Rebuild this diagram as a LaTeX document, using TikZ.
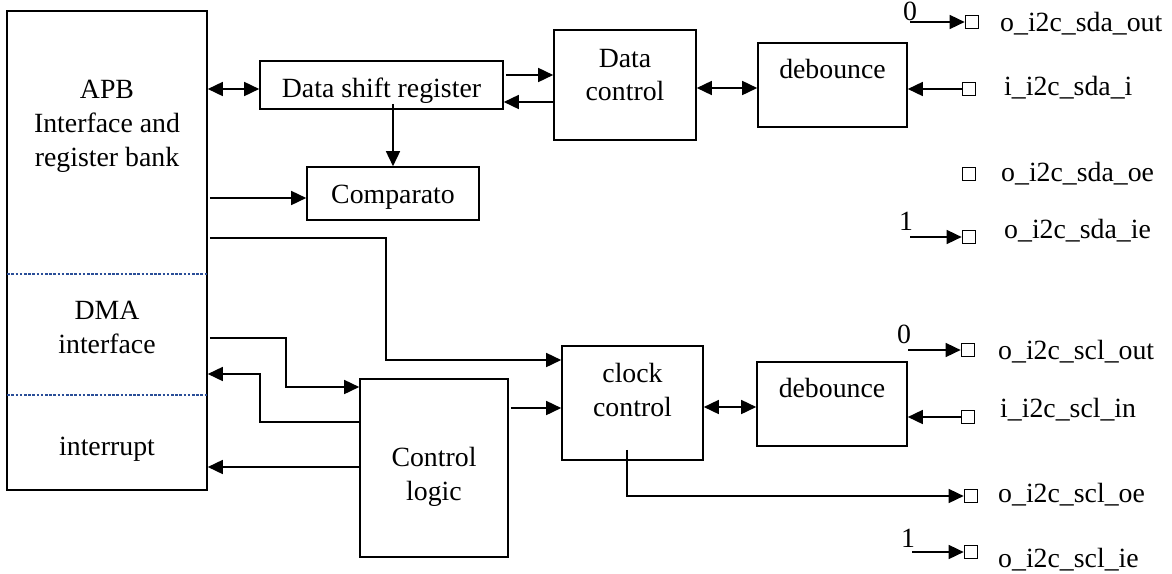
\documentclass[tikz,border=0pt]{standalone}
\usepackage{fontspec}
\setmainfont{Liberation Serif}
\usetikzlibrary{arrows.meta,calc}
\definecolor{sepblue}{HTML}{2A4E98}
\tikzset{
  box/.style={draw, line width=1.6pt, rectangle, inner sep=0pt},
  pin/.style={draw, line width=1.2pt, rectangle, inner sep=0pt, minimum size=13.5pt},
  lbl/.style={anchor=base, inner sep=0pt, font=\fontsize{27.8}{33}\selectfont},
  pinlbl/.style={anchor=base west, inner sep=0pt, font=\fontsize{27.8}{33}\selectfont},
  wire/.style={line width=1.6pt},
  ar/.style={wire, -{Triangle[length=15pt,width=14pt]}},
  dar/.style={wire, {Triangle[length=15pt,width=14pt]}-{Triangle[length=15pt,width=14pt]}},
  sep/.style={sepblue, line width=2.8pt, dash pattern=on 2.6pt off 1.6pt}
}
\begin{document}
\begin{tikzpicture}[x=1pt,y=-1pt]
\useasboundingbox (0,0) rectangle (1172,573);

% blocks
\node[box, minimum width=200pt, minimum height=479pt] (apb) at (107,250.5) {};
\node[box, minimum width=243pt, minimum height=48pt] (dsr) at (381.5,85) {};
\node[box, minimum width=172pt, minimum height=53pt] (cmp) at (393,193.5) {};
\node[box, minimum width=142pt, minimum height=110pt] (dctl) at (625,85) {};
\node[box, minimum width=149pt, minimum height=84pt] (deba) at (832.5,85) {};
\node[box, minimum width=141pt, minimum height=114pt] (cctl) at (632.5,403) {};
\node[box, minimum width=150pt, minimum height=84pt] (debb) at (832,404) {};
\node[box, minimum width=148pt, minimum height=178pt] (clog) at (434,468) {};

% register bank partitions
\draw[sep] ([xshift=1pt]apb.west |- 0,274) -- ([xshift=-1pt]apb.east |- 0,274);
\draw[sep] ([xshift=1pt]apb.west |- 0,395) -- ([xshift=-1pt]apb.east |- 0,395);

% block texts
\node[lbl] (t1) at (107,98) {APB};
\node[lbl] (t2) at (107,132) {Interface and};
\node[lbl] (t3) at (107,166) {register bank};
\node[lbl] (t4) at (107,319) {DMA};
\node[lbl] (t5) at (107,353) {interface};
\node[lbl] (t6) at (107,455) {interrupt};
\node[lbl] (t7) at (381.5,97) {Data shift register};
\node[lbl] (t8) at (393,203) {Comparato};
\node[lbl] (t9) at (625,67) {Data};
\node[lbl] (t10) at (625,100) {control};
\node[lbl] (t11) at (832.5,78) {debounce};
\node[lbl] (t12) at (632.5,382) {clock};
\node[lbl] (t13) at (632.5,416) {control};
\node[lbl] (t14) at (832,397) {debounce};
\node[lbl] (t15) at (434,466) {Control};
\node[lbl] (t16) at (434,500) {logic};

% I/O pads
\node[pin] (sdaout) at (972,22) {};
\node[pin] (sdai)   at (969,89) {};
\node[pin] (sdaoe)  at (969,174) {};
\node[pin] (sdaie)  at (969,237) {};
\node[pin] (sclout) at (968,350) {};
\node[pin] (sclin)  at (968,417) {};
\node[pin] (scloe)  at (971,496) {};
\node[pin] (sclie)  at (971,552) {};

\node[pinlbl] (l1) at (1000,31) {o\_i2c\_sda\_out};
\node[pinlbl] (l2) at (1004,95) {i\_i2c\_sda\_i};
\node[pinlbl] (l3) at (1001,181) {o\_i2c\_sda\_oe};
\node[pinlbl] (l4) at (1004,238) {o\_i2c\_sda\_ie};
\node[pinlbl] (l5) at (998,359) {o\_i2c\_scl\_out};
\node[pinlbl] (l6) at (1000,417) {i\_i2c\_scl\_in};
\node[pinlbl] (l7) at (998,502) {o\_i2c\_scl\_oe};
\node[pinlbl] (l8) at (998,567) {o\_i2c\_scl\_ie};

% constant drivers
\node[lbl] (c0a) at (910,20) {0};
\node[lbl] (c1a) at (906,230) {1};
\node[lbl] (c0b) at (904,343) {0};
\node[lbl] (c1b) at (908,547) {1};
\coordinate (s0a) at (910,22);
\coordinate (s1a) at (910,237);
\coordinate (s0b) at (908,350);
\coordinate (s1b) at (912,552);

% data path
\draw[dar] (apb.east |- 0,89) -- (dsr.west |- 0,89);
\draw[ar] ([xshift=2pt]dsr.east |- 0,75) -- (dctl.west |- 0,75);
\draw[ar] (dctl.west |- 0,102) -- (dsr.east |- 0,102);
\draw[dar] (dctl.east |- 0,88) -- (deba.west |- 0,88);
\draw[ar] (sdai.west) -- (deba.east |- sdai.west);
\draw[ar] ([yshift=6pt]cmp.north |- dsr.south) -- (cmp.north);
\draw[ar] ([xshift=2pt]apb.east |- 0,198) -- (cmp.west |- 0,198);
\draw[ar] (s0a) -- (sdaout.west);
\draw[ar] (s1a) -- (sdaie.west);

% clock path
\draw[ar] ([xshift=2pt]apb.east |- 0,238) -| (386,360) -- (cctl.west |- 0,360);
\draw[ar] ([xshift=2pt]apb.east |- 0,338) -| (286,387) -- (clog.west |- 0,387);
\draw[ar] (clog.west |- 0,422) -| (260,374) -- (apb.east |- 0,374);
\draw[ar] (clog.west |- 0,467) -- (apb.east |- 0,467);
\draw[ar] ([xshift=2pt]clog.east |- 0,408) -- (cctl.west |- 0,408);
\draw[dar] (cctl.east |- 0,407) -- (debb.west |- 0,407);
\draw[ar] (sclin.west) -- (debb.east |- sclin.west);
\draw[ar] (s0b) -- (sclout.west);
\draw[ar] ([yshift=11pt]cctl.south -| 627,0) |- (scloe.west);
\draw[ar] (s1b) -- (sclie.west);
\end{tikzpicture}
\end{document}
